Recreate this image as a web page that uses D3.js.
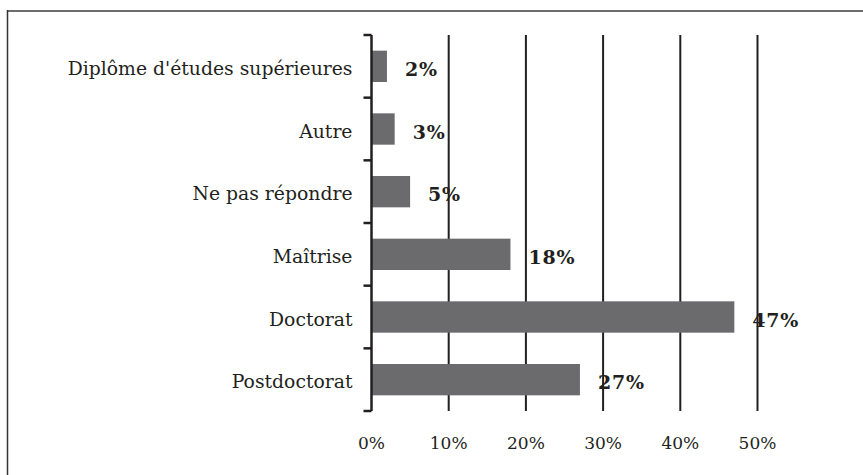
<!DOCTYPE html>
<html>
<head>
<meta charset="utf-8">
<script src="https://cdn.jsdelivr.net/npm/d3@7"></script>
<style>
  body { margin: 0; background: #fff; }
  svg text { font-family: "DejaVu Serif", "Liberation Serif", serif; fill: #231f20; }
</style>
</head>
<body>
<svg width="863" height="475"></svg>
<script>
var categories = ["Diplôme d'études supérieures", "Autre", "Ne pas répondre", "Maîtrise", "Doctorat", "Postdoctorat"];
var values = [2, 3, 5, 18, 47, 27];
var tickValues = [0, 10, 20, 30, 40, 50];

var svg = d3.select("svg"),
    width = +svg.attr("width"),
    height = +svg.attr("height");

var margin = {top: 35, left: 371.5, right: 105.5, bottom: 64};

var x = d3.scaleLinear()
    .domain([0, 50])
    .range([margin.left, width - margin.right]);

var y = d3.scaleBand()
    .domain(categories)
    .range([margin.top, height - margin.bottom])
    .paddingInner(0.5)
    .paddingOuter(0.25);

// frame: top and left edges only
svg.append("line")
    .attr("x1", 7).attr("x2", width)
    .attr("y1", 11).attr("y2", 11)
    .attr("stroke", "#6d6d6d").attr("stroke-width", 2);
svg.append("line")
    .attr("x1", 7.5).attr("x2", 7.5)
    .attr("y1", 10).attr("y2", height)
    .attr("stroke", "#333").attr("stroke-width", 1.5);

// vertical grid lines
svg.append("g")
    .selectAll("line")
    .data(tickValues.slice(1))
    .enter().append("line")
    .attr("x1", function(d) { return x(d); })
    .attr("x2", function(d) { return x(d); })
    .attr("y1", margin.top)
    .attr("y2", height - margin.bottom)
    .attr("stroke", "#231f20")
    .attr("stroke-width", 2);

// bars
svg.append("g")
    .selectAll("rect")
    .data(categories)
    .enter().append("rect")
    .attr("x", x(0))
    .attr("y", function(d) { return y(d); })
    .attr("width", function(d, i) { return x(values[i]) - x(0); })
    .attr("height", y.bandwidth())
    .attr("fill", "#6b6b6e");

// y axis
var yAxis = svg.append("g")
    .attr("transform", "translate(" + x(0) + ",0)");
var step = y.step();
var boundaries = d3.range(categories.length + 1).map(function(i) { return margin.top + i * step; });
yAxis.append("line")
    .attr("x1", 0).attr("x2", 0)
    .attr("y1", margin.top).attr("y2", height - margin.bottom)
    .attr("stroke", "#231f20").attr("stroke-width", 2.5);
yAxis.selectAll(".tk")
    .data(boundaries)
    .enter().append("line")
    .attr("class", "tk")
    .attr("x1", -8).attr("x2", 0)
    .attr("y1", function(d) { return d; })
    .attr("y2", function(d) { return d; })
    .attr("stroke", "#231f20").attr("stroke-width", 2.5);

// category labels
svg.append("g")
    .selectAll("text")
    .data(categories)
    .enter().append("text")
    .attr("x", x(0) - 19)
    .attr("y", function(d) { return y(d) + y.bandwidth() / 2 + 2; })
    .attr("dy", "0.35em")
    .attr("text-anchor", "end")
    .attr("font-size", "18.8px")
    .text(function(d) { return d; });

// value labels
svg.append("g")
    .selectAll("text")
    .data(categories)
    .enter().append("text")
    .attr("x", function(d, i) { return x(values[i]) + 18; })
    .attr("y", function(d) { return y(d) + y.bandwidth() / 2 + 3; })
    .attr("dy", "0.35em")
    .attr("font-size", "19px")
    .attr("font-weight", "bold")
    .attr("letter-spacing", "0.8px")
    .text(function(d, i) { return values[i] + "%"; });

// x tick labels
svg.append("g")
    .selectAll("text")
    .data(tickValues)
    .enter().append("text")
    .attr("x", function(d) { return x(d); })
    .attr("y", 449)
    .attr("text-anchor", "middle")
    .attr("font-size", "17px")
    .text(function(d) { return d + "%"; });
</script>
</body>
</html>
